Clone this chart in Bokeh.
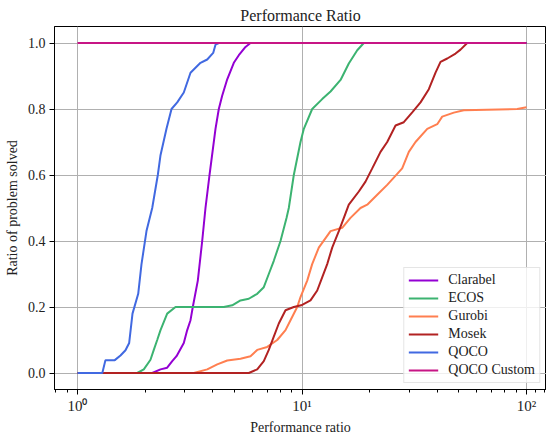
from bokeh.plotting import figure
from bokeh.models import FixedTicker, Legend, LegendItem, Range1d, PrintfTickFormatter
from bokeh.embed import file_html
from bokeh.resources import INLINE

# ---- data (performance ratio, fraction of problems solved) ----
solvers = ["Clarabel", "ECOS", "Gurobi", "Mosek", "QOCO", "QOCO Custom"]
colors = ["#9400D3", "#3CB371", "#FF7F50", "#B22222", "#4169E1", "#C71585"]

clarabel_x = [1.0, 2.152, 2.343, 2.509, 2.642, 2.761, 2.975, 3.081, 3.187, 3.263, 3.435,
              3.593, 3.716, 3.873, 4.118, 4.260, 4.410, 4.644, 4.969, 5.231, 5.602, 5.897, 100.0]
clarabel_y = [0.0, 0.0, 0.011, 0.016, 0.036, 0.051, 0.091, 0.13, 0.16, 0.20, 0.28,
              0.40, 0.50, 0.60, 0.74, 0.80, 0.84, 0.89, 0.94, 0.963, 0.988, 1.0, 1.0]

ecos_x = [1.0, 1.845, 1.974, 2.114, 2.187, 2.265, 2.343, 2.509, 2.733, 4.484, 4.888, 5.322,
          5.795, 6.316, 6.758, 7.113, 7.488, 8.021, 8.531, 8.734, 9.193, 9.847, 10.19, 11.10,
          12.30, 13.40, 14.85, 16.16, 17.62, 18.85, 100.0]
ecos_y = [0.0, 0.0, 0.011, 0.04, 0.07, 0.10, 0.13, 0.18, 0.20, 0.20, 0.205, 0.22,
          0.225, 0.24, 0.26, 0.30, 0.34, 0.40, 0.47, 0.50, 0.60, 0.70, 0.74, 0.80,
          0.83, 0.853, 0.888, 0.938, 0.978, 1.0, 1.0]

gurobi_x = [1.0, 3.297, 3.783, 4.192, 4.644, 5.322, 5.897, 6.316, 6.998, 7.754, 8.444, 8.888,
            9.520, 9.847, 10.55, 11.10, 11.88, 13.40, 15.10, 16.44, 18.22, 19.52, 21.63, 23.96,
            27.94, 29.91, 32.03, 36.13, 40.02, 42.12, 47.45, 52.56, 90.91, 100.0]
gurobi_y = [0.0, 0.0, 0.011, 0.026, 0.038, 0.043, 0.051, 0.07, 0.079, 0.10, 0.13, 0.16,
            0.20, 0.23, 0.28, 0.33, 0.38, 0.43, 0.44, 0.47, 0.50, 0.51, 0.54, 0.57,
            0.62, 0.67, 0.70, 0.74, 0.754, 0.777, 0.789, 0.796, 0.80, 0.805]

mosek_x = [1.0, 5.795, 6.316, 6.758, 7.113, 7.488, 7.882, 8.444, 9.193, 9.918, 10.91, 11.69,
           12.30, 12.95, 13.63, 14.59, 15.36, 16.16, 17.91, 19.18, 20.55, 22.37, 23.96, 26.10,
           28.41, 30.97, 33.72, 36.72, 39.33, 41.40, 44.36, 48.29, 50.82, 54.43, 100.0]
mosek_y = [0.0, 0.0, 0.011, 0.036, 0.07, 0.11, 0.15, 0.19, 0.20, 0.205, 0.22, 0.25,
           0.29, 0.33, 0.38, 0.43, 0.47, 0.51, 0.55, 0.58, 0.62, 0.67, 0.70, 0.75,
           0.76, 0.79, 0.82, 0.86, 0.91, 0.943, 0.953, 0.968, 0.98, 1.0, 1.0]

qoco_x = [1.0, 1.29, 1.332, 1.466, 1.554, 1.636, 1.699, 1.758, 1.864, 1.928, 2.029, 2.152,
          2.279, 2.343, 2.491, 2.623, 2.781, 2.975, 3.187, 3.531, 3.783, 4.022, 4.118, 4.260, 100.0]
qoco_y = [0.0, 0.0, 0.039, 0.039, 0.053, 0.069, 0.091, 0.18, 0.24, 0.33, 0.43, 0.50,
          0.60, 0.66, 0.74, 0.80, 0.82, 0.85, 0.91, 0.94, 0.95, 0.97, 0.995, 1.0, 1.0]

qoco_custom_x = [1.0, 100.0]
qoco_custom_y = [1.0, 1.0]

series_x = [clarabel_x, ecos_x, gurobi_x, mosek_x, qoco_x, qoco_custom_x]
series_y = [clarabel_y, ecos_y, gurobi_y, mosek_y, qoco_y, qoco_custom_y]

x_ticks = [1, 10, 100]
x_tick_labels = {1: "10\u2070", 10: "10\u00b9", 100: "10\u00b2"}
y_ticks = [0.0, 0.2, 0.4, 0.6, 0.8, 1.0]

FONT = "Liberation Serif"

p = figure(width=546, height=437, x_axis_type="log",
           x_range=Range1d(10 ** -0.1024, 10 ** 2.089), y_range=Range1d(-0.05, 1.05),
           output_backend="svg", toolbar_location=None,
           title="Performance Ratio",
           min_border_left=54, min_border_right=0, min_border_top=26, min_border_bottom=43)

p.title.align = "center"
p.title.text_font = FONT
p.title.text_font_size = "16px"
p.title.text_font_style = "normal"
p.title.text_color = "#222222"
p.title.standoff = 6
p.title.offset = 0

minor = [0.8, 0.9] + [k for k in range(2, 10)] + [k * 10 for k in range(2, 10)] + [110, 120]
p.xaxis.ticker = FixedTicker(ticks=x_ticks, minor_ticks=minor)
p.xaxis.major_label_overrides = x_tick_labels
p.yaxis.ticker = FixedTicker(ticks=y_ticks)
p.yaxis.formatter = PrintfTickFormatter(format="%.1f")

for ax in (p.xaxis, p.yaxis):
    ax.axis_line_color = "black"
    ax.major_tick_line_color = "black"
    ax.minor_tick_line_color = "black"
    ax.major_tick_out = 5
    ax.major_tick_in = 0
    ax.minor_tick_out = 3
    ax.minor_tick_in = 0
    ax.major_label_text_font = FONT
    ax.major_label_text_font_size = "14px"
    ax.major_label_text_color = "#222222"
    ax.axis_label_text_font = FONT
    ax.axis_label_text_font_size = "14px"
    ax.axis_label_text_font_style = "normal"
    ax.axis_label_text_color = "#222222"
p.yaxis.minor_tick_line_color = None
p.xaxis.major_label_text_font_size = "15px"
p.xaxis.major_label_standoff = 3
p.xaxis.axis_label_standoff = 3
p.yaxis.major_label_standoff = 4
p.xaxis.axis_label = "Performance ratio"
p.yaxis.axis_label = "Ratio of problem solved"

p.xgrid.grid_line_color = "#b0b0b0"
p.ygrid.grid_line_color = "#b0b0b0"
p.xgrid.grid_line_width = 1
p.ygrid.grid_line_width = 1
p.outline_line_color = "black"
p.outline_line_width = 1

items = []
for name, c, xs, ys in zip(solvers, colors, series_x, series_y):
    r = p.line(xs, ys, line_color=c, line_width=2)
    items.append(LegendItem(label=name, renderers=[r]))

legend = Legend(items=items, location="bottom_right")
legend.label_text_font = FONT
legend.label_text_font_size = "14px"
legend.label_text_color = "#222222"
legend.glyph_width = 30
legend.glyph_height = 14
legend.label_height = 14
legend.label_standoff = 10
legend.spacing = 2
legend.padding = 4
legend.margin = 6
legend.border_line_color = "#cccccc"
legend.border_line_width = 1
legend.background_fill_color = "white"
legend.background_fill_alpha = 0.8
p.add_layout(legend)

open("out.html", "w").write(file_html(p, INLINE))
